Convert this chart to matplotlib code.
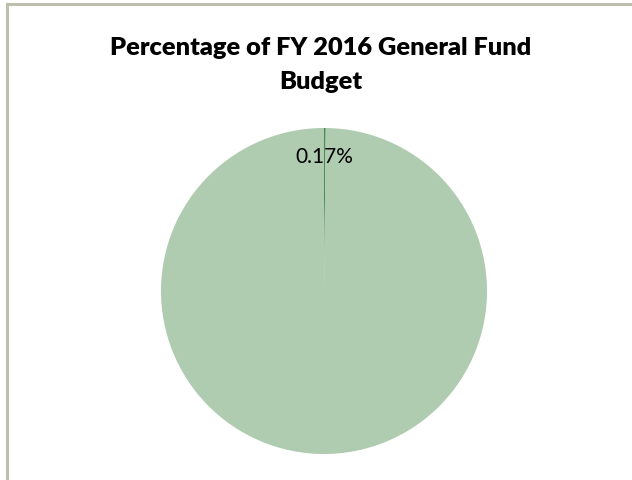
import matplotlib.pyplot as plt
from matplotlib.lines import Line2D

# Dades del gràfic
categories = ['Department', 'Rest of General Fund']
shares = [0.17, 99.83]
labels_shown = ['0.17%', '']
colors = ['#4a8a55', '#afcbb0']

fig = plt.figure(figsize=(6.32, 4.8), dpi=100)
fig.patch.set_facecolor('white')

# Vora del gràfic (només esquerra i dalt visibles)
fig.add_artist(Line2D([6.5 / 632, 6.5 / 632], [0, 1 - 3.5 / 480], color='#bfbfae', lw=2.2))
fig.add_artist(Line2D([6.5 / 632, 1], [1 - 4 / 480, 1 - 4 / 480], color='#bfbfae', lw=2.2))

fig.text(0.507, 1 - 48 / 480, 'Percentage of FY 2016 General Fund', ha='center', va='center',
         fontsize=18.3, fontweight='heavy', family='Lato')
fig.text(0.507, 1 - 82 / 480, 'Budget', ha='center', va='center',
         fontsize=18.3, fontweight='heavy', family='Lato')

# Pastís: centre (324, 291), radi 163 px
r = 163
cx, cy = 324, 291
ax = fig.add_axes([(cx - r) / 632, 1 - (cy + r) / 480, 2 * r / 632, 2 * r / 480])
wedges, texts = ax.pie(shares, colors=colors, startangle=90, counterclock=False,
                       labels=labels_shown, labeldistance=0.82,
                       wedgeprops=dict(linewidth=0))
for t in texts:
    t.set_fontsize(15)
    t.set_family('Lato')
    t.set_ha('center')
    t.set_va('center')
ax.set_aspect('equal')
ax.set_xlim(-1, 1)
ax.set_ylim(-1, 1)
ax.axis('off')

fig.savefig('out.png', dpi=100, facecolor='white')
